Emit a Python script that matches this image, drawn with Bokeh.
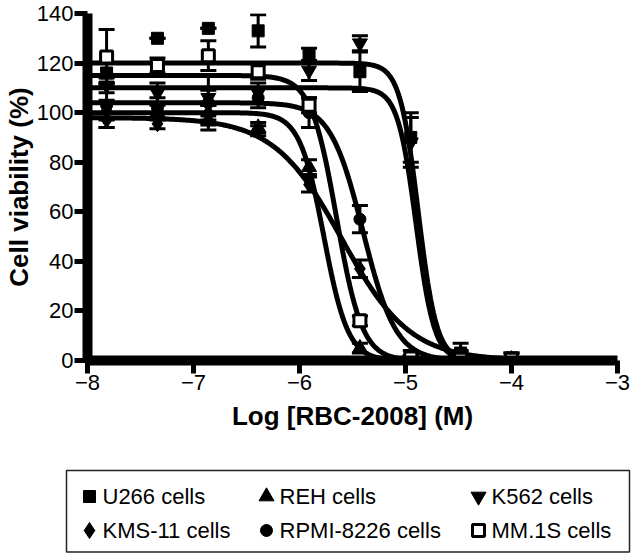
import numpy as np
from bokeh.plotting import figure
from bokeh.models import FixedTicker, ColumnDataSource, Whisker, TeeHead, Range1d
from bokeh.layouts import column
from bokeh.embed import file_html
from bokeh.resources import INLINE
from bokeh.core.properties import value

# ---------------- data ----------------
log_conc = [-7.82, -7.34, -6.86, -6.39, -5.91, -5.43, -4.95, -4.48, -4.00]

series_names = ["U266 cells", "REH cells", "K562 cells",
                "KMS-11 cells", "RPMI-8226 cells", "MM.1S cells"]

u266_mean = [116, 130, 134, 133, 123, 116.5, 90, 3, 1]
u266_sem = [4, 0, 0, 6.5, 3, 8, 10, 4, 2]
reh_mean = [101, 100, 100, 94, 78, 5, 0.5, 0.5, 0.5]
reh_sem = [4, 3, 3, 2, 3, 2, 0.5, 0.5, 0.5]
k562_mean = [111, 108, 106, 108, 117, 128, 88, 2, 1]
k562_sem = [3, 4, 3, 4, 4, 3, 10, 2, 2]
kms11_mean = [97, 95.5, 97, 92.7, 71, 37, 1, 0.5, 0.5]
kms11_sem = [3, 2, 2, 2, 3, 3.5, 1, 0.5, 0.5]
rpmi_mean = [103, 102, 104, 106, 100, 57, 2, 0.5, 0.5]
rpmi_sem = [9, 4, 11, 4, 6, 5.5, 2, 0.5, 0.5]
mm1s_mean = [122.5, 119, 123, 116.5, 103, 16, 1, 0.5, 0.5]
mm1s_sem = [11, 3, 6, 3, 3, 2, 1, 0.5, 0.5]

# fitted dose-response parameters (bottom = 0) per cell line
fit_top = [120, 100, 110, 98, 104, 115]
fit_log_ic50 = [-4.88, -5.77, -4.90, -5.60, -5.40, -5.65]
fit_hill = [5.0, 3.8, 5.0, 1.35, 2.8, 3.6]

y_ticks = [0, 20, 40, 60, 80, 100, 120, 140]
x_ticks = [-8, -7, -6, -5, -4, -3]
x_tick_labels = ["\u22128", "\u22127", "\u22126", "\u22125", "\u22124", "\u22123"]

means = [u266_mean, reh_mean, k562_mean, kms11_mean, rpmi_mean, mm1s_mean]
sems = [u266_sem, reh_sem, k562_sem, kms11_sem, rpmi_sem, mm1s_sem]
markers = ["square", "triangle", "inverted_triangle", "diamond", "circle", "square"]
msizes = [12, 15, 15, 16, 12, 12]
fills = ["black", "black", "black", "black", "black", "white"]

FONT = "Liberation Sans"

# ---------------- main plot ----------------
p = figure(width=634, height=462, x_range=(-8, -3), y_range=(0, 140),
           output_backend="svg", toolbar_location=None,
           min_border_left=0, min_border_right=17, min_border_top=13,
           min_border_bottom=102)
p.frame_align = False
p.outline_line_color = None
p.grid.visible = False

p.axis.axis_line_width = 10
p.axis.axis_line_color = "black"
p.axis.major_tick_line_width = 5
p.axis.major_tick_line_color = "black"
p.axis.major_tick_out = 13
p.axis.major_tick_in = 0
p.axis.minor_tick_line_color = None
p.axis.major_label_text_font = FONT
p.axis.major_label_text_font_size = "22px"
p.axis.major_label_text_color = "black"
p.axis.axis_label_text_font = FONT
p.axis.axis_label_text_font_size = "26px"
p.axis.axis_label_text_font_style = "bold"
p.axis.axis_label_text_color = "black"

p.yaxis.ticker = FixedTicker(ticks=y_ticks)
p.xaxis.ticker = FixedTicker(ticks=x_ticks)
p.xaxis.major_label_overrides = {t: l for t, l in zip(x_ticks, x_tick_labels)}
p.yaxis.axis_label = "Cell viability (%)"
p.xaxis.axis_label = "Log [RBC-2008] (M)"
p.yaxis.major_label_standoff = 1
p.xaxis.major_label_standoff = 1
p.yaxis.axis_label_standoff = 0
p.xaxis.axis_label_standoff = 8

xx = np.linspace(-8, -4, 300)
for i in range(len(series_names)):
    yy = fit_top[i] / (1 + 10 ** (fit_hill[i] * (xx - fit_log_ic50[i])))
    p.line(xx, yy, line_color="black", line_width=5)

for i in range(len(series_names)):
    m = np.array(means[i], dtype=float)
    s = np.array(sems[i], dtype=float)
    src = ColumnDataSource(dict(x=log_conc, y=m, upper=m + s, lower=m - s))
    w = Whisker(source=src, base="x", upper="upper", lower="lower",
                line_width=3, line_color="black",
                upper_head=TeeHead(size=16, line_width=3, line_color="black"),
                lower_head=TeeHead(size=16, line_width=3, line_color="black"))
    p.add_layout(w)
    p.scatter("x", "y", source=src, marker=markers[i], size=msizes[i],
              fill_color=fills[i], line_color="black",
              line_width=3 if fills[i] == "white" else 1)

# ---------------- legend panel ----------------
leg_x_marker = [89, 266, 478, 89, 266, 478]
leg_y = [34, 34, 34, 68, 68, 68]
leg_x_text = [102, 279, 491, 102, 279, 491]

lg = figure(width=634, height=91, x_range=Range1d(0, 634), y_range=Range1d(91, 0),
            output_backend="svg", toolbar_location=None,
            x_axis_location=None, y_axis_location=None,
            min_border=0)
lg.frame_align = False
lg.outline_line_color = None
lg.grid.visible = False
lg.quad(left=[66], right=[629], top=[8], bottom=[89.5], fill_color=None,
        line_color="#222222", line_width=1.5)
for i in range(len(series_names)):
    lg.scatter([leg_x_marker[i]], [leg_y[i]], marker=markers[i], size=msizes[i],
               fill_color=fills[i], line_color="black",
               line_width=3 if fills[i] == "white" else 1)
lg.text(x=leg_x_text, y=leg_y, text=series_names, text_font=value(FONT),
        text_font_size="22px", text_baseline="middle", text_align="left",
        text_color="black")

layout = column(p, lg, spacing=0)
open("out.html", "w").write(file_html(layout, INLINE))
